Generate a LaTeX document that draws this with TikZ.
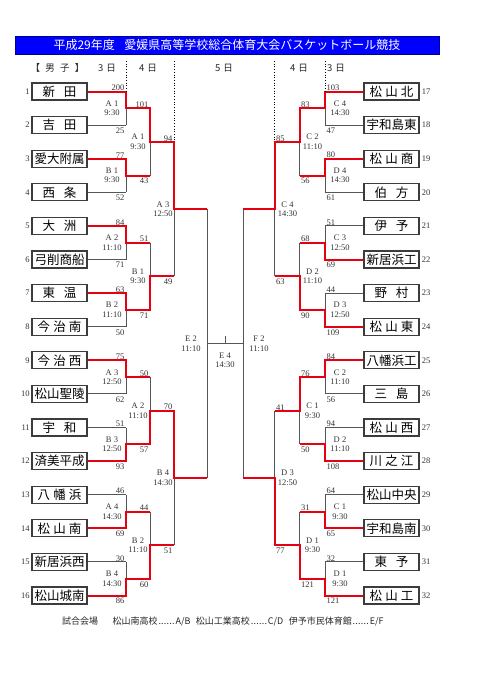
\documentclass[tikz,border=0pt]{standalone}
\usepackage{fontspec}
\setmainfont{Liberation Serif}
\newfontfamily\jp{Noto Sans CJK JP}
\usetikzlibrary{calc}
\pgfdeclarelayer{bg}
\pgfsetlayers{bg,main}
\definecolor{winred}{RGB}{230,0,18}
\definecolor{linegray}{RGB}{85,85,85}
\definecolor{boxgray}{RGB}{60,60,60}
\definecolor{titleblue}{RGB}{0,0,255}
\newcommand\TwoC[2]{#1\hspace{0.7em}#2}
\newcommand\ThreeC[3]{#1\hspace{0.25em}#2\hspace{0.25em}#3}
\newcommand\FwDots{\makebox[2em][s]{\hspace{0.1em}.\hfil.\hfil.\hfil.\hfil.\hfil.\hspace{0.1em}}}
\newcommand\setX[3]{\expandafter\def\csname X#1#2\endcsname{#3}}
\newcommand\setO[3]{\expandafter\def\csname O#1#2\endcsname{#3}}
\setX{L}{1}{126}\setX{L}{2}{150}\setX{L}{3}{174}\setX{L}{4}{207}
\setX{R}{1}{325}\setX{R}{2}{299.5}\setX{R}{3}{274.5}\setX{R}{4}{243}
\setO{L}{1}{-14}\setO{L}{2}{-12}\setO{L}{3}{-11}\setO{L}{4}{-16}
\setO{R}{1}{15}\setO{R}{2}{13}\setO{R}{3}{13}\setO{R}{4}{16}
\def\anchL{east}\def\anchR{west}
\def\tsL{south east}\def\tsR{south west}
\def\bsL{north east}\def\bsR{north west}
\def\sxL{-1.5}\def\sxR{1.5}
\tikzset{
  gl/.style={draw=linegray, line width=1pt},
  rl/.style={draw=winred, line width=2pt},
  dl/.style={draw=black, dotted, line width=0.7pt},
  tb/.style={draw=boxgray, line width=1.2pt, minimum width=55pt, minimum height=17pt, inner sep=0pt, fill=white, font=\jp\fontsize{12.5}{12.5}\selectfont},
  num/.style={inner sep=0pt, font=\fontsize{8.5}{8.5}\selectfont, text=black!80},
  sc/.style={inner sep=0pt, font=\fontsize{8.5}{8.5}\selectfont, text=black!80},
  ml/.style={inner sep=0pt, align=center, font=\fontsize{8.5}{9.5}\selectfont, text=black!80},
  hd/.style={inner sep=0pt, font=\jp\fontsize{9.5}{9.5}\selectfont, text=black!85},
}
% #1 side, #2 round, #3 match, #4 winner, #5 top score, #6 bottom score, #7 code, #8 time
\newcommand\Match[8]{%
  \pgfmathsetmacro\qya{91.5+33.6*(2^(#2-1)*(2*#3-2)+(2^(#2-1)-1)/2)}%
  \pgfmathsetmacro\qyb{\qya+33.6*2^(#2-1)}%
  \pgfmathsetmacro\qym{(\qya+\qyb)/2}%
  \pgfmathtruncatemacro\qa{2*#3-1}%
  \pgfmathtruncatemacro\qb{2*#3}%
  \pgfmathtruncatemacro\qp{#2-1}%
  \pgfmathtruncatemacro\qn{#2+1}%
  \edef\qx{\csname X#1#2\endcsname}%
  \edef\qta{\csname ts#1\endcsname}%
  \edef\qba{\csname bs#1\endcsname}%
  \edef\qsx{\csname sx#1\endcsname}%
  \edef\qo{\csname O#1#2\endcsname}%
  \coordinate (#1r#2m#3) at (\qx,\qym);
  \coordinate (#1r#2m#3a) at (\qx,\qya);
  \coordinate (#1r#2m#3b) at (\qx,\qyb);
  \ifnum#2=1\relax
    \edef\qpa{#1\qa.\csname anch#1\endcsname}\edef\qpb{#1\qb.\csname anch#1\endcsname}%
    \begin{pgfonlayer}{bg}\draw[gl] (\qpa) -- (#1r#2m#3a) (\qpb) -- (#1r#2m#3b);\end{pgfonlayer}
  \else
    \edef\qpa{#1r\qp m\qa}\edef\qpb{#1r\qp m\qb}%
  \fi
  \begin{pgfonlayer}{bg}\draw[gl] (#1r#2m#3a) -- (#1r#2m#3b);\end{pgfonlayer}
  \ifnum#4=1\relax \draw[rl] (\qpa) -- (#1r#2m#3a) -- (#1r#2m#3) -- (#1r#2m#3 -| XC#1\qn);\fi
  \ifnum#4=2\relax \draw[rl] (\qpb) -- (#1r#2m#3b) -- (#1r#2m#3) -- (#1r#2m#3 -| XC#1\qn);\fi
  \ifnum#4>0\relax
    \node[sc, anchor=\qta, xshift=\qsx pt, yshift=0.5pt] (#1s#2m#3a) at (#1r#2m#3a) {#5};
    \node[sc, anchor=\qba, xshift=\qsx pt, yshift=-2.5pt] (#1s#2m#3b) at (#1r#2m#3b) {#6};
  \fi
  \node[ml, xshift=\qo pt] (#1l#2m#3) at (#1r#2m#3) {#7\\#8};
}
\begin{document}
\begin{tikzpicture}[x=1pt, y=-1pt]
\begin{pgfonlayer}{bg}
\fill[white] (0,0) rectangle (481,680);
\end{pgfonlayer}
\useasboundingbox (0,0) rectangle (481,680);
\coordinate (XCL1) at (126,0);\coordinate (XCL2) at (150,0);\coordinate (XCL3) at (174,0);\coordinate (XCL4) at (207,0);
\coordinate (XCR1) at (325,0);\coordinate (XCR2) at (299.5,0);\coordinate (XCR3) at (274.5,0);\coordinate (XCR4) at (243,0);
\coordinate (hdtop) at (0,61);
% title
\node[fill=titleblue, draw=blue!60!black, line width=0.6pt, minimum width=424pt, minimum height=18pt, inner sep=0pt,
      text=white, font=\jp\fontsize{12}{12}\selectfont] (title) at (227,45)
  {平成29年度\hspace{0.8em}愛媛県高等学校総合体育大会バスケットボール競技};
% header
\node[hd] (hmale) at (57.5,68) {【\hspace{0.55em}男\hspace{0.55em}子\hspace{0.55em}】};
\node[hd] (hd1) at (107,68) {3\hspace{0.3em}日};
\node[hd] (hd2) at (148,68) {4\hspace{0.3em}日};
\node[hd] (hd3) at (224,68) {5\hspace{0.3em}日};
\node[hd] (hd4) at (299,68) {4\hspace{0.3em}日};
\node[hd] (hd5) at (336,68) {3\hspace{0.3em}日};
% team boxes
\foreach \tn [count=\i] in {\TwoC{新}{田},\TwoC{吉}{田},愛大附属,\TwoC{西}{条},\TwoC{大}{洲},弓削商船,\TwoC{東}{温},\ThreeC{今}{治}{南},
  \ThreeC{今}{治}{西},松山聖陵,\TwoC{宇}{和},済美平成,\ThreeC{八}{幡}{浜},\ThreeC{松}{山}{南},新居浜西,松山城南}{
  \node[tb] (L\i) at (59.5,{91.5+33.6*(\i-1)}) {\tn};
  \node[num, anchor=east] (Ln\i) at ([xshift=-1.5pt]L\i.west) {\i};
}
\foreach \tn [count=\i] in {\ThreeC{松}{山}{北},宇和島東,\ThreeC{松}{山}{商},\TwoC{伯}{方},\TwoC{伊}{予},新居浜工,\TwoC{野}{村},\ThreeC{松}{山}{東},
  八幡浜工,\TwoC{三}{島},\ThreeC{松}{山}{西},\ThreeC{川}{之}{江},松山中央,宇和島南,\TwoC{東}{予},\ThreeC{松}{山}{工}}{
  \pgfmathtruncatemacro\k{\i+16}
  \node[tb] (R\i) at (391.5,{91.5+33.6*(\i-1)}) {\tn};
  \node[num, anchor=west] (Rn\i) at ([xshift=2pt]R\i.east) {\k};
}
% left bracket
\Match{L}{1}{1}{1}{200}{25}{A 1}{9:30}
\Match{L}{1}{2}{1}{77}{52}{B 1}{9:30}
\Match{L}{1}{3}{1}{84}{71}{A 2}{11:10}
\Match{L}{1}{4}{1}{63}{50}{B 2}{11:10}
\Match{L}{1}{5}{1}{75}{62}{A 3}{12:50}
\Match{L}{1}{6}{2}{51}{93}{B 3}{12:50}
\Match{L}{1}{7}{2}{46}{69}{A 4}{14:30}
\Match{L}{1}{8}{2}{30}{86}{B 4}{14:30}
\Match{L}{2}{1}{1}{101}{43}{A 1}{9:30}
\Match{L}{2}{2}{2}{51}{71}{B 1}{9:30}
\Match{L}{2}{3}{2}{50}{57}{A 2}{11:10}
\Match{L}{2}{4}{2}{44}{60}{B 2}{11:10}
\Match{L}{3}{1}{1}{94}{49}{A 3}{12:50}
\Match{L}{3}{2}{1}{70}{51}{B 4}{14:30}
\Match{L}{4}{1}{0}{}{}{E 2}{11:10}
% right bracket
\Match{R}{1}{1}{1}{103}{47}{C 4}{14:30}
\Match{R}{1}{2}{1}{80}{61}{D 4}{14:30}
\Match{R}{1}{3}{2}{51}{69}{C 3}{12:50}
\Match{R}{1}{4}{2}{44}{109}{D 3}{12:50}
\Match{R}{1}{5}{1}{84}{56}{C 2}{11:10}
\Match{R}{1}{6}{2}{94}{108}{D 2}{11:10}
\Match{R}{1}{7}{2}{64}{65}{C 1}{9:30}
\Match{R}{1}{8}{2}{32}{121}{D 1}{9:30}
\Match{R}{2}{1}{1}{83}{56}{C 2}{11:10}
\Match{R}{2}{2}{2}{68}{90}{D 2}{11:10}
\Match{R}{2}{3}{1}{76}{50}{C 1}{9:30}
\Match{R}{2}{4}{2}{31}{121}{D 1}{9:30}
\Match{R}{3}{1}{1}{85}{63}{C 4}{14:30}
\Match{R}{3}{2}{2}{41}{77}{D 3}{12:50}
\Match{R}{4}{1}{0}{}{}{F 2}{11:10}
% final
\begin{pgfonlayer}{bg}
\draw[gl] (Lr4m1) -- (Rr4m1);
\coordinate (ftick) at (225,336);
\draw[gl] (ftick) -- (ftick |- Lr4m1);
\end{pgfonlayer}
\node[ml] (flab) at (225,360.5) {E 4\\14:30};
% dotted day separators
\draw[dl] (Lr1m1a |- hdtop) -- (Lr1m1a);
\draw[dl] (Lr3m1a |- hdtop) -- (Lr3m1a);
\draw[dl] (Rr3m1a |- hdtop) -- (Rr3m1a);
\draw[dl] (Rr1m1a |- hdtop) -- (Rr1m1a);
% footer
\node[anchor=west, inner sep=0pt, font=\jp\fontsize{9}{9}\selectfont, text=black!85] (foot) at (62,621)
  {試合会場\hspace{1.6em}松山南高校\FwDots A/B\hspace{0.6em}松山工業高校\FwDots C/D\hspace{0.6em}伊予市民体育館\FwDots E/F};
\end{tikzpicture}
\end{document}
